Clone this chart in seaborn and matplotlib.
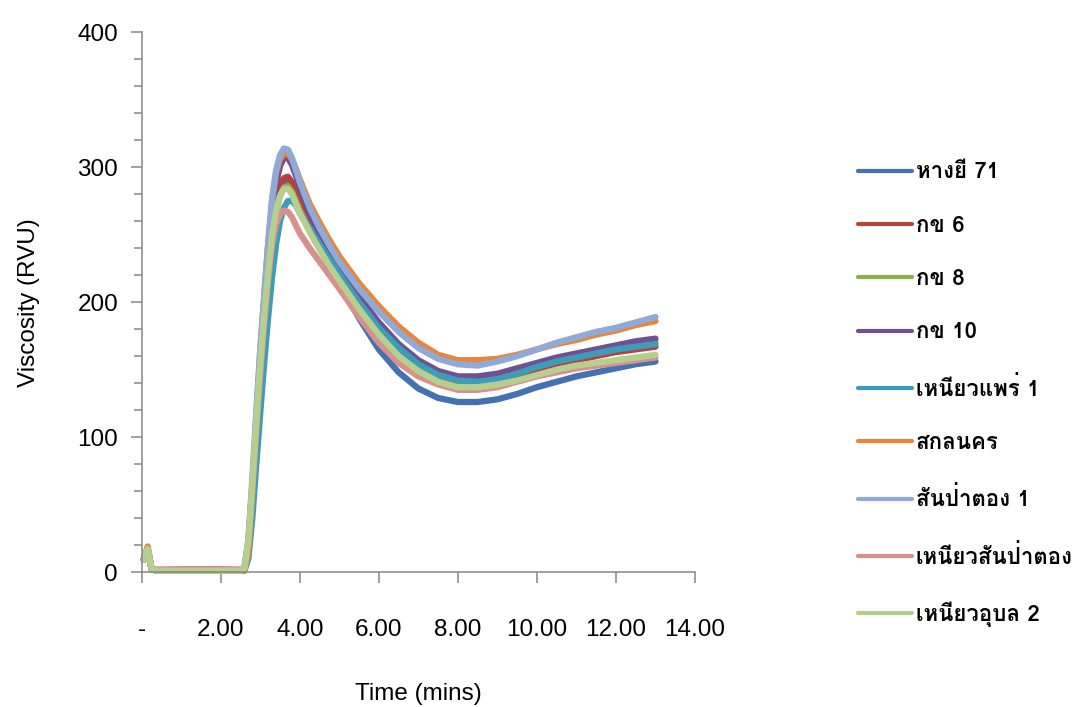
import numpy as np
import pandas as pd
import matplotlib
matplotlib.use('Agg')
import matplotlib.pyplot as plt
from matplotlib import font_manager, ft2font
from matplotlib.ticker import MultipleLocator
import seaborn as sns

# time axis (mins) shared by every RVA curve
time = [0.05, 0.15, 0.25, 0.4, 1.0, 2.0, 2.5, 2.6, 2.7, 2.8, 2.9, 3.0, 3.1, 3.2, 3.3, 3.4,
        3.5, 3.6, 3.7, 3.8, 3.9, 4.0, 4.25, 4.5, 4.75, 5.0, 5.5, 6.0, 6.5, 7.0, 7.5, 8.0,
        8.5, 9.0, 9.5, 10.0, 10.5, 11.0, 11.5, 12.0, 12.5, 13.0]

varieties = ['หางยี 71', 'กข 6', 'กข 8', 'กข 10', 'เหนียวแพร่ 1', 'สกลนคร',
             'สันป่าตอง 1', 'เหนียวสันป่าตอง', 'เหนียวอุบล 2']

hangyi71 = [9, 17, 2, 1, 1, 1, 1, 2, 20, 60, 105, 148, 186, 220, 250, 270,
            282, 288, 289, 285, 278, 270, 254, 240, 227, 214, 188, 165, 148, 136, 129, 126,
            126, 128, 132, 137, 141, 145, 148, 151, 154, 156]
rd6 = [9, 17, 2, 1, 2, 2, 1, 3, 22, 62, 108, 150, 189, 224, 254, 275,
       287, 292, 293, 289, 282, 274, 259, 246, 234, 222, 200, 180, 164, 151, 143, 139,
       139, 141, 145, 149, 153, 157, 160, 163, 165, 167]
rd8 = [9, 17, 2, 1, 1, 1, 1, 2, 20, 58, 102, 145, 182, 216, 246, 267,
       279, 285, 286, 282, 275, 268, 254, 242, 230, 219, 198, 179, 164, 153, 146, 142,
       142, 144, 148, 153, 157, 161, 164, 167, 169, 171]
rd10 = [9, 17, 2, 1, 1, 1, 1, 3, 22, 65, 112, 158, 198, 235, 266, 288,
        301, 307, 307, 302, 294, 285, 266, 251, 238, 226, 204, 185, 169, 157, 149, 145,
        145, 147, 151, 155, 159, 162, 165, 168, 171, 173]
niaophrae1 = [9, 17, 2, 1, 1, 1, 1, 1, 10, 40, 80, 118, 155, 189, 219, 243,
              260, 270, 275, 275, 272, 266, 255, 243, 232, 221, 200, 181, 166, 154, 146, 142,
              141, 143, 147, 152, 156, 159, 162, 165, 167, 169]
sakonnakhon = [10, 19, 2, 1, 1, 1, 1, 1, 15, 60, 115, 165, 205, 244, 276, 296,
               306, 310, 310, 306, 299, 291, 273, 259, 246, 234, 214, 197, 182, 170, 161, 157,
               157, 158, 161, 165, 169, 172, 176, 179, 183, 186]
sanpatong1 = [9, 17, 2, 1, 1, 1, 1, 3, 25, 70, 120, 165, 205, 244, 277, 298,
              309, 314, 313, 307, 298, 289, 270, 255, 242, 230, 210, 193, 178, 166, 158, 154,
              153, 156, 160, 165, 170, 174, 178, 181, 185, 189]
niaosanpatong = [9, 17, 2, 2, 2, 2, 2, 3, 22, 62, 105, 147, 184, 217, 243, 258,
                 265, 268, 267, 263, 257, 251, 240, 230, 220, 210, 189, 170, 155, 145, 139, 135,
                 135, 137, 141, 145, 148, 151, 153, 155, 157, 159]
niaoubon2 = [9, 17, 2, 1, 1, 1, 1, 3, 24, 66, 112, 155, 191, 223, 250, 268,
             279, 284, 284, 280, 273, 266, 252, 239, 227, 216, 195, 176, 160, 149, 141, 137,
             137, 139, 142, 146, 150, 153, 155, 157, 159, 161]

series = [hangyi71, rd6, rd8, rd10, niaophrae1, sakonnakhon, sanpatong1, niaosanpatong, niaoubon2]
colors = ['#4471B2', '#B8413E', '#8DAE4C', '#6E5093', '#3C9DB8', '#E8853A',
          '#8FAAD6', '#D9908D', '#B5CF8E']

xticks = [0, 2, 4, 6, 8, 10, 12, 14]
xticklabels = ['-', '2.00', '4.00', '6.00', '8.00', '10.00', '12.00', '14.00']

df = pd.concat([pd.DataFrame({'time': time, 'viscosity': v, 'variety': name})
                for name, v in zip(varieties, series)], ignore_index=True)

sns.set_style('white')
plt.rcParams['font.family'] = ['Liberation Sans', 'DejaVu Sans']
plt.rcParams['text.color'] = 'black'
plt.rcParams['axes.labelcolor'] = 'black'
plt.rcParams['xtick.labelcolor'] = 'black'
plt.rcParams['ytick.labelcolor'] = 'black'

# find any installed font with Thai glyphs for the legend
thai_font = None
for f in font_manager.fontManager.ttflist:
    try:
        if 0x0E01 in ft2font.FT2Font(f.fname).get_charmap():
            thai_font = f.name
            break
    except Exception:
        pass
legend_family = [thai_font, 'DejaVu Sans'] if thai_font else ['DejaVu Sans']

fig = plt.figure(figsize=(10.77, 7.07), dpi=100)
ax = fig.add_axes([0.1316, 0.1909, 0.5137, 0.7634])

sns.lineplot(data=df, x='time', y='viscosity', hue='variety', hue_order=varieties,
             palette=colors, linewidth=4.5, sort=False, estimator=None, ax=ax)
for ln in ax.get_lines():
    ln.set_clip_on(False)
    ln.set_solid_capstyle('round')
    ln.set_solid_joinstyle('round')

handles, labels = ax.get_legend_handles_labels()
ax.get_legend().remove()
for h in handles:
    h.set_linewidth(3)
fig.legend(handles, labels, loc='center left', bbox_to_anchor=(0.7967, 0.442),
           frameon=False, borderpad=0, borderaxespad=0, handlelength=2.45,
           handletextpad=0.15, labelspacing=1.5,
           prop={'family': legend_family, 'size': 16, 'weight': 'bold'})

ax.set_xlim(0, 14)
ax.set_ylim(0, 400)
ax.set_xticks(xticks)
ax.set_xticklabels(xticklabels)
ax.yaxis.set_major_locator(MultipleLocator(100))
ax.yaxis.set_minor_locator(MultipleLocator(20))

for side in ['top', 'right']:
    ax.spines[side].set_visible(False)
for side in ['left', 'bottom']:
    ax.spines[side].set_color('#868686')
    ax.spines[side].set_linewidth(1.1)

ax.tick_params(axis='x', which='major', direction='out', length=8, width=1.1,
               color='#868686', pad=26, labelsize=17.5, bottom=True)
ax.tick_params(axis='y', which='major', direction='out', length=8, width=1.1,
               color='#868686', pad=9, labelsize=17.5, left=True)
ax.tick_params(axis='y', which='minor', direction='out', length=6, width=1.1,
               color='#868686', left=True)

ax.set_xlabel('Time (mins)', fontsize=17.5, labelpad=30)
ax.set_ylabel('Viscosity (RVU)', fontsize=17.5, labelpad=27)

fig.savefig('out.png', dpi=100)
